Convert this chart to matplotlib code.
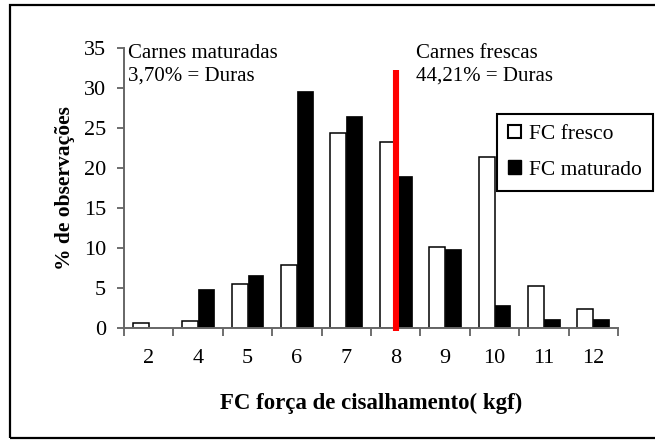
import numpy as np
import matplotlib.pyplot as plt
from matplotlib.patches import Patch, Rectangle

plt.rcParams['font.family'] = ['Liberation Serif', 'DejaVu Serif']

# data
categorias = ['2', '4', '5', '6', '7', '8', '9', '10', '11', '12']
fc_fresco = [0.55, 0.8, 5.5, 7.8, 24.3, 23.2, 10.05, 21.3, 5.25, 2.3]
fc_maturado = [0.0, 4.8, 6.6, 29.6, 26.5, 18.9, 9.8, 2.85, 1.1, 1.1]
corte = '8'          # category where the red cut line sits
corte_topo = 32.2    # top of the red line
txt_maturadas = 'Carnes maturadas\n3,70% = Duras'
txt_frescas = 'Carnes frescas\n44,21% = Duras'

fig = plt.figure(figsize=(6.55, 4.4), dpi=100)
ax = fig.add_axes([124/655, 1 - 327.7/440, (618 - 124)/655, (327.7 - 47.7)/440])

x = np.arange(len(categorias))
w = 0.32
ax.bar(x - w/2, fc_fresco, w, color='white', edgecolor='black', linewidth=1.1,
       label='FC fresco')
ax.bar(x + w/2, fc_maturado, w, color='black', edgecolor='black', linewidth=0.5,
       label='FC maturado')

xc = categorias.index(corte)
ax.plot([xc, xc], [-0.45, corte_topo], color='#ff0000', lw=4.4, clip_on=False,
        solid_capstyle='butt', zorder=5)

ax.text(-0.42, 35.4, txt_maturadas, fontsize=15, va='top', ha='left',
        linespacing=1.2)
ax.text(5.41, 35.4, txt_frescas, fontsize=15, va='top', ha='left',
        linespacing=1.2)

ax.set_xlim(-0.5, len(categorias) - 0.5)
ax.set_ylim(0, 35)
ax.set_yticks(range(0, 36, 5))
ax.set_xticks(np.arange(-0.5, len(categorias), 1))
ax.set_xticklabels([])
ax.set_xticks(x, minor=True)
ax.set_xticklabels(categorias, minor=True)
ax.tick_params(axis='x', which='minor', length=0, pad=15, labelsize=16)
ax.tick_params(axis='x', which='major', length=6, width=1.2, color='#555555')
ax.tick_params(axis='y', length=5, width=1.2, color='#555555', pad=8, labelsize=16)

for s in ['top', 'right']:
    ax.spines[s].set_visible(False)
for s in ['left', 'bottom']:
    ax.spines[s].set_color('#666666')
    ax.spines[s].set_linewidth(1.4)

ax.set_ylabel('% de observações', fontsize=15.5, fontweight='bold', labelpad=6)
ax.set_xlabel('FC força de cisalhamento( kgf)', fontsize=16.5, fontweight='bold',
              labelpad=18)

handles = [Patch(facecolor='white', edgecolor='black', linewidth=1.5, label='FC fresco'),
           Patch(facecolor='black', edgecolor='black', label='FC maturado')]
leg = fig.legend(handles=handles, loc='upper left',
                 bbox_to_anchor=(497/655, 1 - 114/440), fontsize=15.5,
                 frameon=True, fancybox=False, framealpha=1, edgecolor='black',
                 handlelength=0.6, handleheight=0.6, handletextpad=0.4,
                 labelspacing=0.75, borderpad=0.5, borderaxespad=0)
leg.get_frame().set_linewidth(1.5)

# outer chart frame
fig.patches.append(Rectangle((10/655, 1 - 438/440), 1.0, 433/440,
                             transform=fig.transFigure, fill=False,
                             edgecolor='black', linewidth=1.6))

fig.savefig('out.png', dpi=100)
